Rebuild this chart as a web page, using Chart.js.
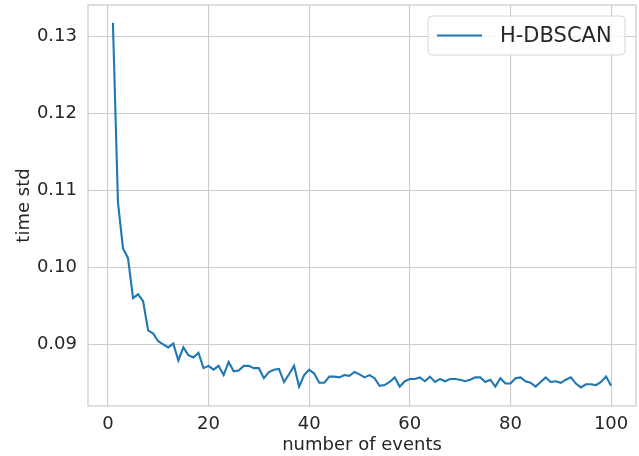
<!DOCTYPE html>
<html>
<head>
<meta charset="utf-8">
<script src="https://cdn.jsdelivr.net/npm/chart.js@4/dist/chart.umd.min.js"></script>
<style>
  html, body { margin: 0; padding: 0; background: #ffffff; }
  #wrap { width: 639px; height: 456px; }
</style>
</head>
<body>
<div id="wrap"><canvas id="stdChart" width="639" height="456"></canvas></div>
<script>
// number of events (x) and the H-DBSCAN time std
const events = [
  1, 2, 3, 4, 5, 6, 7, 8, 9, 10, 11, 12, 13, 14, 15, 16, 17, 18, 19, 20,
  21, 22, 23, 24, 25, 26, 27, 28, 29, 30, 31, 32, 33, 34, 35, 36, 37, 38, 39, 40,
  41, 42, 43, 44, 45, 46, 47, 48, 49, 50, 51, 52, 53, 54, 55, 56, 57, 58, 59, 60,
  61, 62, 63, 64, 65, 66, 67, 68, 69, 70, 71, 72, 73, 74, 75, 76, 77, 78, 79, 80,
  81, 82, 83, 84, 85, 86, 87, 88, 89, 90, 91, 92, 93, 94, 95, 96, 97, 98, 99, 100
];
const hdbscanStd = [
  0.1318, 0.1085, 0.1025, 0.1012, 0.0960, 0.0965, 0.0956, 0.0918, 0.0914, 0.0904,
  0.0900, 0.0896, 0.0901, 0.0879, 0.0896, 0.0886, 0.0883, 0.0889, 0.0869, 0.0872,
  0.0867, 0.0872, 0.0860, 0.0877, 0.0865, 0.0866, 0.0872, 0.0872, 0.0869, 0.0869,
  0.0856, 0.0864, 0.0867, 0.0868, 0.0851, 0.0861, 0.0872, 0.0845, 0.0860, 0.0867,
  0.0862, 0.0850, 0.0850, 0.0858, 0.0858, 0.0857, 0.0860, 0.0859, 0.0864, 0.0861,
  0.0857, 0.0860, 0.0856, 0.0846, 0.0847, 0.0851, 0.0857, 0.0845, 0.0852, 0.0855,
  0.0855, 0.0857, 0.0852, 0.0858, 0.0851, 0.0855, 0.0852, 0.0855, 0.0855, 0.0854,
  0.0852, 0.0854, 0.0857, 0.0857, 0.0851, 0.0854, 0.0845, 0.0856, 0.0849, 0.0849,
  0.0856, 0.0857, 0.0852, 0.0850, 0.0845, 0.0851, 0.0857, 0.0851, 0.0852, 0.0850,
  0.0854, 0.0857, 0.0849, 0.0844, 0.0848, 0.0848, 0.0847, 0.0851, 0.0858, 0.0846
];
const xTicks = [0, 20, 40, 60, 80, 100];
const yTicks = [0.09, 0.10, 0.11, 0.12, 0.13];
const seriesLabel = 'H-DBSCAN';

const FONT = '"DejaVu Sans", "Liberation Sans", sans-serif';
const TEXT = '#262626';
const GRID = '#cccccc';
const BLUE = '#1f77b4';

// frame around the plot area (all four spines)
const frame = {
  id: 'frame',
  afterDatasetsDraw(chart) {
    const { ctx, chartArea: a } = chart;
    ctx.save();
    ctx.strokeStyle = GRID;
    ctx.lineWidth = 1.25;
    ctx.strokeRect(a.left, a.top, a.right - a.left, a.bottom - a.top);
    ctx.restore();
  }
};

// matplotlib-like legend box in the upper right
const boxLegend = {
  id: 'boxLegend',
  afterDraw(chart) {
    const ctx = chart.ctx;
    const a = chart.chartArea;
    const ds = chart.data.datasets[0];
    const w = 197, h = 39;
    const x = a.right - 11 - w, y = a.top + 11;
    ctx.save();
    ctx.beginPath();
    ctx.roundRect(x, y, w, h, 4);
    ctx.fillStyle = 'rgba(255,255,255,0.8)';
    ctx.fill();
    ctx.strokeStyle = '#d6d6d6';
    ctx.lineWidth = 1;
    ctx.stroke();
    ctx.beginPath();
    ctx.moveTo(x + 9, y + h / 2);
    ctx.lineTo(x + 54, y + h / 2);
    ctx.strokeStyle = ds.borderColor;
    ctx.lineWidth = 2;
    ctx.stroke();
    ctx.fillStyle = TEXT;
    ctx.font = '21px ' + FONT;
    ctx.textBaseline = 'middle';
    ctx.fillText(ds.label, x + 72, y + h / 2 + 1);
    ctx.restore();
  }
};

new Chart(document.getElementById('stdChart'), {
  type: 'line',
  data: {
    datasets: [{
      label: seriesLabel,
      data: events.map((e, i) => ({ x: e, y: hdbscanStd[i] })),
      borderColor: BLUE,
      backgroundColor: BLUE,
      borderWidth: 2.1,
      pointRadius: 0,
      tension: 0,
      fill: false
    }]
  },
  options: {
    responsive: false,
    animation: false,
    layout: { padding: { top: 5, right: 3, left: 0, bottom: 0 } },
    plugins: {
      legend: { display: false },
      tooltip: { enabled: false }
    },
    scales: {
      x: {
        type: 'linear',
        min: -3.95,
        max: 104.95,
        afterBuildTicks: s => { s.ticks = xTicks.map(v => ({ value: v })); },
        afterFit: s => { s.height = 50; s.paddingLeft = 0; s.paddingRight = 0; },
        grid: { color: GRID, lineWidth: 1.1, drawTicks: false },
        border: { display: false },
        ticks: {
          color: TEXT,
          padding: 8,
          font: { family: FONT, size: 18 },
          maxRotation: 0,
          callback: v => String(v)
        },
        title: {
          display: true,
          text: 'number of events',
          color: TEXT,
          font: { family: FONT, size: 18 },
          padding: { top: 0, bottom: 0 }
        }
      },
      y: {
        type: 'linear',
        min: 0.08198,
        max: 0.13412,
        afterBuildTicks: s => { s.ticks = yTicks.map(v => ({ value: v })); },
        afterFit: s => { s.width = 88; s.paddingTop = 0; s.paddingBottom = 0; },
        grid: { color: GRID, lineWidth: 1.1, drawTicks: false },
        border: { display: false },
        ticks: {
          color: TEXT,
          padding: 11,
          font: { family: FONT, size: 18 },
          callback: v => v.toFixed(2)
        },
        title: {
          display: true,
          text: 'time std',
          color: TEXT,
          font: { family: FONT, size: 18 },
          padding: { top: 14, bottom: 0 }
        }
      }
    }
  },
  plugins: [frame, boxLegend]
});
</script>
</body>
</html>
